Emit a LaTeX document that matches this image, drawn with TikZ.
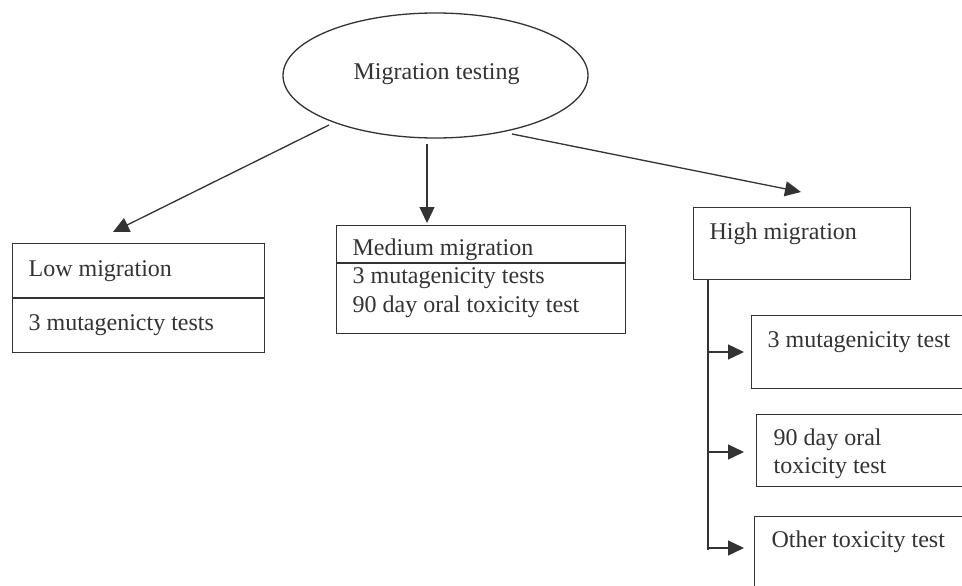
\documentclass[tikz,border=0pt]{standalone}
\usepackage{fontspec}
\setmainfont{Liberation Serif}
\usetikzlibrary{arrows.meta,shapes.geometric}
\definecolor{ink}{HTML}{333333}
\begin{document}
\begin{tikzpicture}[x=1pt,y=-1pt,
  line width=1.3pt, draw=ink,
  lbl/.style={font=\fontsize{24}{28}\selectfont, text=ink, inner sep=0pt, anchor=base west},
  box/.style={draw=ink, line width=1.3pt, rectangle, inner sep=0pt, anchor=north west},
  arr/.style={draw=ink, line width=1.3pt, -{Triangle[length=16pt,width=15pt]}},
  ln/.style={draw=ink, line width=1.3pt}]
\useasboundingbox (0,0) rectangle (962,586);
\clip (0,0) rectangle (962,586);
\fill[white] (0,0) rectangle (962,586);
% root
\node[ellipse, draw=ink, line width=1.3pt, minimum width=305pt, minimum height=125pt, inner sep=0pt] (root) at (435.5,75.5) {};
\node[lbl] (roottxt) at (353,80) {Migration testing};
% low
\node[box, minimum width=252pt, minimum height=109pt] (low) at (12,243) {};
\draw[ln] (low.west |- 0,298) coordinate (lowdl) -- (low.east |- 0,298) coordinate (lowdr);
\node[lbl] (lowt1) at (28,276) {Low migration};
\node[lbl] (lowt2) at (28,330) {3 mutagenicty tests};
% medium
\node[box, minimum width=289pt, minimum height=108pt] (med) at (336,225) {};
\draw[ln] (med.west |- 0,263) coordinate (meddl) -- (med.east |- 0,263) coordinate (meddr);
\node[lbl] (medt1) at (352,255) {Medium migration};
\node[lbl] (medt2) at (352,283) {3 mutagenicity tests};
\node[lbl] (medt3) at (352,312) {90 day oral toxicity test};
% high
\node[box, minimum width=217pt, minimum height=72pt] (high) at (693,207) {};
\node[lbl] (hight) at (709,239) {High migration};
% sub boxes
\node[box, minimum width=260pt, minimum height=73pt] (ha) at (751,315) {};
\node[lbl] (hat) at (767,347) {3 mutagenicity test};
\node[box, minimum width=260pt, minimum height=72pt] (hb) at (756,414) {};
\node[lbl] (hbt1) at (773,445) {90 day oral};
\node[lbl] (hbt2) at (773,473) {toxicity test};
\node[box, minimum width=260pt, minimum height=100pt] (hc) at (754,516) {};
\node[lbl] (hct) at (771,547) {Other toxicity test};
% connectors
\coordinate (s1) at (329,125);
\coordinate (e1) at (113,232);
\coordinate (s2) at (427,144);
\coordinate (e2) at (427,223);
\coordinate (s3) at (512,134);
\coordinate (e3) at (801,192);
\draw[arr] (s1) -- (e1);
\draw[arr] (s2) -- (e2);
\draw[arr] (s3) -- (e3);
\coordinate (vtop) at (708,279);
\coordinate (vbot) at (708,550);
\draw[ln] (vtop) -- (vbot);
\coordinate (b1) at (708,352);
\coordinate (b2) at (708,452);
\coordinate (b3) at (708,548);
\coordinate (t1) at (744,352);
\coordinate (t2) at (744,452);
\coordinate (t3) at (744,548);
\draw[arr] (b1) -- (t1);
\draw[arr] (b2) -- (t2);
\draw[arr] (b3) -- (t3);
\end{tikzpicture}
\end{document}
